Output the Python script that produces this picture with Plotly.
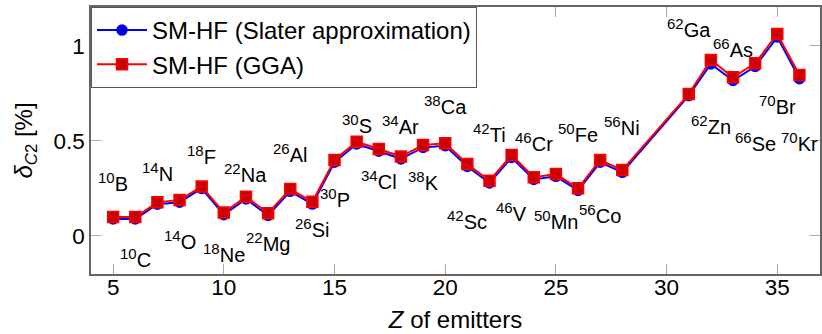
import plotly.graph_objects as go

# Data
Z = [5, 6, 7, 8, 9, 10, 11, 12, 13, 14, 15, 16, 17, 18, 19, 20, 21, 22, 23, 24,
     25, 26, 27, 28, 31, 32, 33, 34, 35, 36]
gga = [0.100, 0.100, 0.177, 0.190, 0.260, 0.123, 0.207, 0.120, 0.247, 0.180,
       0.400, 0.496, 0.458, 0.418, 0.479, 0.488, 0.379, 0.291, 0.426, 0.309,
       0.326, 0.251, 0.400, 0.347, 0.747, 0.926, 0.835, 0.909, 1.063, 0.847]
slater = [0.090, 0.090, 0.167, 0.178, 0.250, 0.112, 0.195, 0.108, 0.235, 0.168,
          0.388, 0.484, 0.446, 0.405, 0.466, 0.475, 0.366, 0.279, 0.413, 0.297,
          0.314, 0.240, 0.388, 0.335, 0.738, 0.905, 0.818, 0.892, 1.047, 0.828]

label_mass = ["10", "14", "18", "22", "26", "30", "30", "34", "34", "38", "38",
              "42", "46", "50", "56", "62", "66", "70", "62", "66", "70",
              "10", "14", "18", "22", "26", "42", "46", "50", "56"]
label_sym = ["B", "N", "F", "Na", "Al", "P", "S", "Ar", "Cl", "K", "Ca",
             "Ti", "Cr", "Fe", "Ni", "Ga", "As", "Br", "Zn", "Se", "Kr",
             "C", "O", "Ne", "Mg", "Si", "Sc", "V", "Mn", "Co"]
label_z = [5, 7, 9, 11, 13, 15, 16, 18, 17, 19, 20,
           22, 24, 26, 28, 31, 33, 35, 32, 34, 36,
           6, 8, 10, 12, 14, 21, 23, 25, 27]
label_y = [0.284, 0.337, 0.426, 0.332, 0.437, 0.200, 0.589, 0.584, 0.295, 0.289, 0.689,
           0.542, 0.495, 0.542, 0.579, 1.095, 0.989, 0.689, 0.584, 0.495, 0.495,
           -0.116, -0.021, -0.089, -0.032, 0.042, 0.084, 0.126, 0.084, 0.116]

FONT = "Liberation Sans, Arial, Helvetica, sans-serif"

fig = go.Figure()
fig.add_trace(go.Scatter(
    x=Z, y=slater, mode="lines+markers", name="SM-HF (Slater approximation)",
    line=dict(color="#0000ff", width=2),
    marker=dict(symbol="circle", size=10, color="#0000cc",
                line=dict(color="#0000ff", width=1.5)),
))
fig.add_trace(go.Scatter(
    x=Z, y=gga, mode="lines+markers", name="SM-HF (GGA)",
    line=dict(color="#ff0000", width=2),
    marker=dict(symbol="square", size=11, color="#cc0000",
                line=dict(color="#ff0000", width=1.5)),
))

for m, s, zx, zy in zip(label_mass, label_sym, label_z, label_y):
    fig.add_annotation(x=zx, y=zy, xref="x", yref="y",
                       text=f"<sup><span style=\"font-size:15px\">{m}</span></sup>{s}",
                       showarrow=False,
                       xanchor="center", yanchor="middle",
                       font=dict(size=20, color="black", family=FONT))

fig.update_layout(
    width=822, height=334,
    margin=dict(l=91, r=0, t=7, b=60),
    paper_bgcolor="white", plot_bgcolor="white",
    font=dict(family=FONT, size=22, color="black"),
    showlegend=True,
    legend=dict(x=0, y=1, xanchor="left", yanchor="top",
                bgcolor="white", bordercolor="#555555", borderwidth=1,
                font=dict(size=24, family=FONT), tracegroupgap=0,
                itemwidth=50),
)
fig.update_xaxes(
    range=[4, 36.93], tickvals=[5, 10, 15, 20, 25, 30, 35],
    ticks="inside", ticklen=10, tickcolor="#aaaaaa", tickwidth=1,
    showline=True, linecolor="#666666", linewidth=1.5, mirror="allticks",
    showgrid=False, zeroline=False, ticklabelstandoff=-8,
    tickfont=dict(size=22.5, family=FONT),
    title=dict(text="<i>Z</i> of emitters", font=dict(size=24, family=FONT), standoff=12),
)
fig.update_yaxes(
    range=[-0.2, 1.205], tickvals=[0, 0.5, 1], ticktext=["0", "0.5", "1"],
    ticks="inside", ticklen=10, tickcolor="#aaaaaa", tickwidth=1,
    showline=True, linecolor="#666666", linewidth=1.5, mirror="allticks",
    showgrid=False, zeroline=False,
    tickfont=dict(size=22.5, family=FONT),
    title=dict(text="<i>δ</i><sub><i>C</i>2</sub> [%]", font=dict(size=24, family=FONT), standoff=14),
)

fig.write_html("out.html", config={"displayModeBar": False},
               post_script="document.body.style.margin='0';document.body.style.overflow='hidden';")
